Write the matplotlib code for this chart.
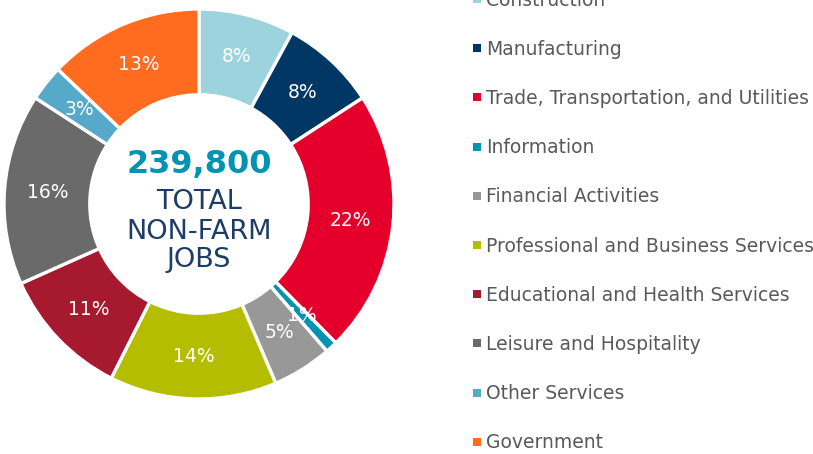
import numpy as np
import matplotlib.pyplot as plt

# ==== data ====
sectors = ['Construction', 'Manufacturing', 'Trade, Transportation, and Utilities',
           'Information', 'Financial Activities', 'Professional and Business Services',
           'Educational and Health Services', 'Leisure and Hospitality',
           'Other Services', 'Government']
shares = [8, 8, 22, 1, 5, 14, 11, 16, 3, 13]
colors = ['#9dd3dd', '#003764', '#e4002b', '#0093b2', '#989898',
          '#b5bd00', '#a6192e', '#6a6a6a', '#56a9c8', '#ff6b1f']
total_jobs = '239,800'

plt.rcParams['font.family'] = ['DejaVu Sans']

W, H = 813, 454
fig = plt.figure(figsize=(W / 100, H / 100), dpi=100)

# legend drawn in pixel space
lax = fig.add_axes([0, 0, 1, 1])
lax.set_xlim(0, W)
lax.set_ylim(H, 0)
lax.axis('off')

# ring
cx, cy, R = 199, 204, 195
ax = fig.add_axes([(cx - R) / W, (H - cy - R) / H, 2 * R / W, 2 * R / H])
wedges, _ = ax.pie(shares, colors=colors, startangle=90, counterclock=False,
                   radius=1.0,
                   wedgeprops={'width': 0.44, 'edgecolor': 'white', 'linewidth': 2.4})
ax.set_xlim(-1, 1)
ax.set_ylim(-1, 1)
ax.set_aspect('equal')
ax.axis('off')

for w, v in zip(wedges, shares):
    th = np.deg2rad((w.theta1 + w.theta2) / 2)
    r = 0.78
    ax.text(r * np.cos(th), r * np.sin(th), f'{v}%', color='white',
            fontsize=13.5, ha='center', va='center')

# centre text
ax.text(0, 0.20, total_jobs, color='#0093b2', fontsize=23, fontweight='bold',
        ha='center', va='center')
navy = '#1d3c66'
ax.text(0, 0.01, 'TOTAL', color=navy, fontsize=19.5, ha='center', va='center')
ax.text(0, -0.142, 'NON-FARM', color=navy, fontsize=19.5, ha='center', va='center')
ax.text(0, -0.288, 'JOBS', color=navy, fontsize=19.5, ha='center', va='center')

# legend
step = 49.2
for i, (name, c) in enumerate(zip(sectors, colors)):
    base = 5.5 + step * i
    lax.scatter([477], [base - 6.5], marker='s', s=28, color=c, linewidths=0)
    lax.text(486, base, name, fontsize=13.5, color='#58595b', ha='left', va='baseline')

fig.savefig('out.png', dpi=100)
